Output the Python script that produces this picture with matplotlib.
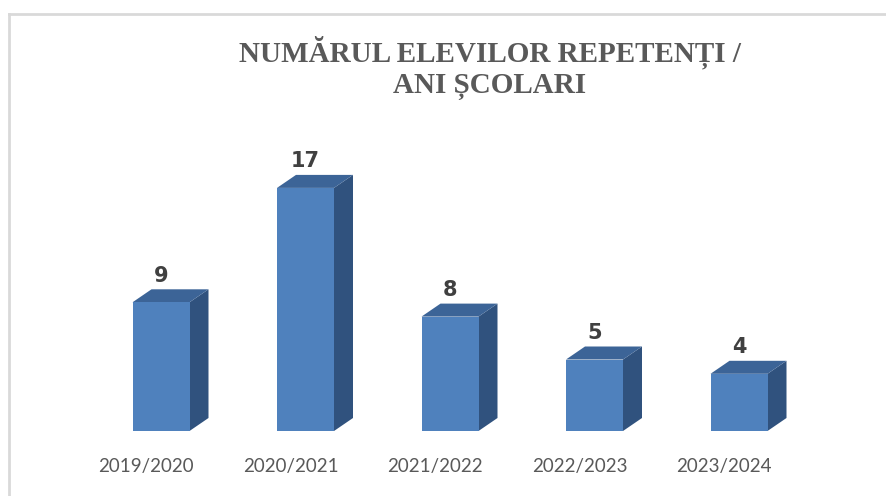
import matplotlib.pyplot as plt
from matplotlib.patches import Polygon
from matplotlib.lines import Line2D

years = ["2019/2020", "2020/2021", "2021/2022", "2022/2023", "2023/2024"]
counts = [9, 17, 8, 5, 4]

W, H = 886, 496
fig = plt.figure(figsize=(W / 100, H / 100), dpi=100)

# plot area in pixels: category spacing ~144.5 px, 14.3 px per unit
step = 144.5
ppu = 14.3
left_px = 161 - 0.5 * step
base_px = 431
ymax = 20
ax = fig.add_axes([left_px / W, (H - base_px) / H, 5 * step / W, ymax * ppu / H])
ax.set_xlim(-0.5, 4.5)
ax.set_ylim(0, ymax)
ax.axis("off")

bw = 57 / step
dx = 19 / step
dy = 13 / ppu
front, top, side = "#4F81BD", "#3C6497", "#30527E"

for i, v in enumerate(counts):
    x0, x1 = i - bw / 2, i + bw / 2
    ax.add_patch(Polygon([(x1, 0), (x1 + dx, dy), (x1 + dx, v + dy), (x1, v)],
                         closed=True, fc=side, ec="none"))
    ax.add_patch(Polygon([(x0, v), (x1, v), (x1 + dx, v + dy), (x0 + dx, v + dy)],
                         closed=True, fc=top, ec="none"))
    ax.add_patch(Polygon([(x0, 0), (x1, 0), (x1, v), (x0, v)],
                         closed=True, fc=front, ec="none"))
    ax.text(i, v + dy + 0.25, str(v), ha="center", va="bottom",
            fontsize=15, fontweight="bold", color="#404040", family="DejaVu Sans")
    ax.text(i - 15 / step, -2.45, years[i], ha="center", va="center",
            fontsize=13.5, color="#595959", family="Lato")

fig.text(490 / W, 1 - 68 / H, "NUMĂRUL ELEVILOR REPETENȚI /\nANI ȘCOLARI",
         ha="center", va="center", fontsize=21, fontweight="bold",
         color="#595959", family="Liberation Serif", linespacing=1.12)

# chart frame (top and left edges visible)
fig.add_artist(Line2D([9 / W, 1], [1 - 14 / H, 1 - 14 / H], color="#D9D9D9", lw=2))
fig.add_artist(Line2D([9 / W, 9 / W], [0, 1 - 14 / H], color="#D9D9D9", lw=2))

fig.savefig("out.png", dpi=100)
